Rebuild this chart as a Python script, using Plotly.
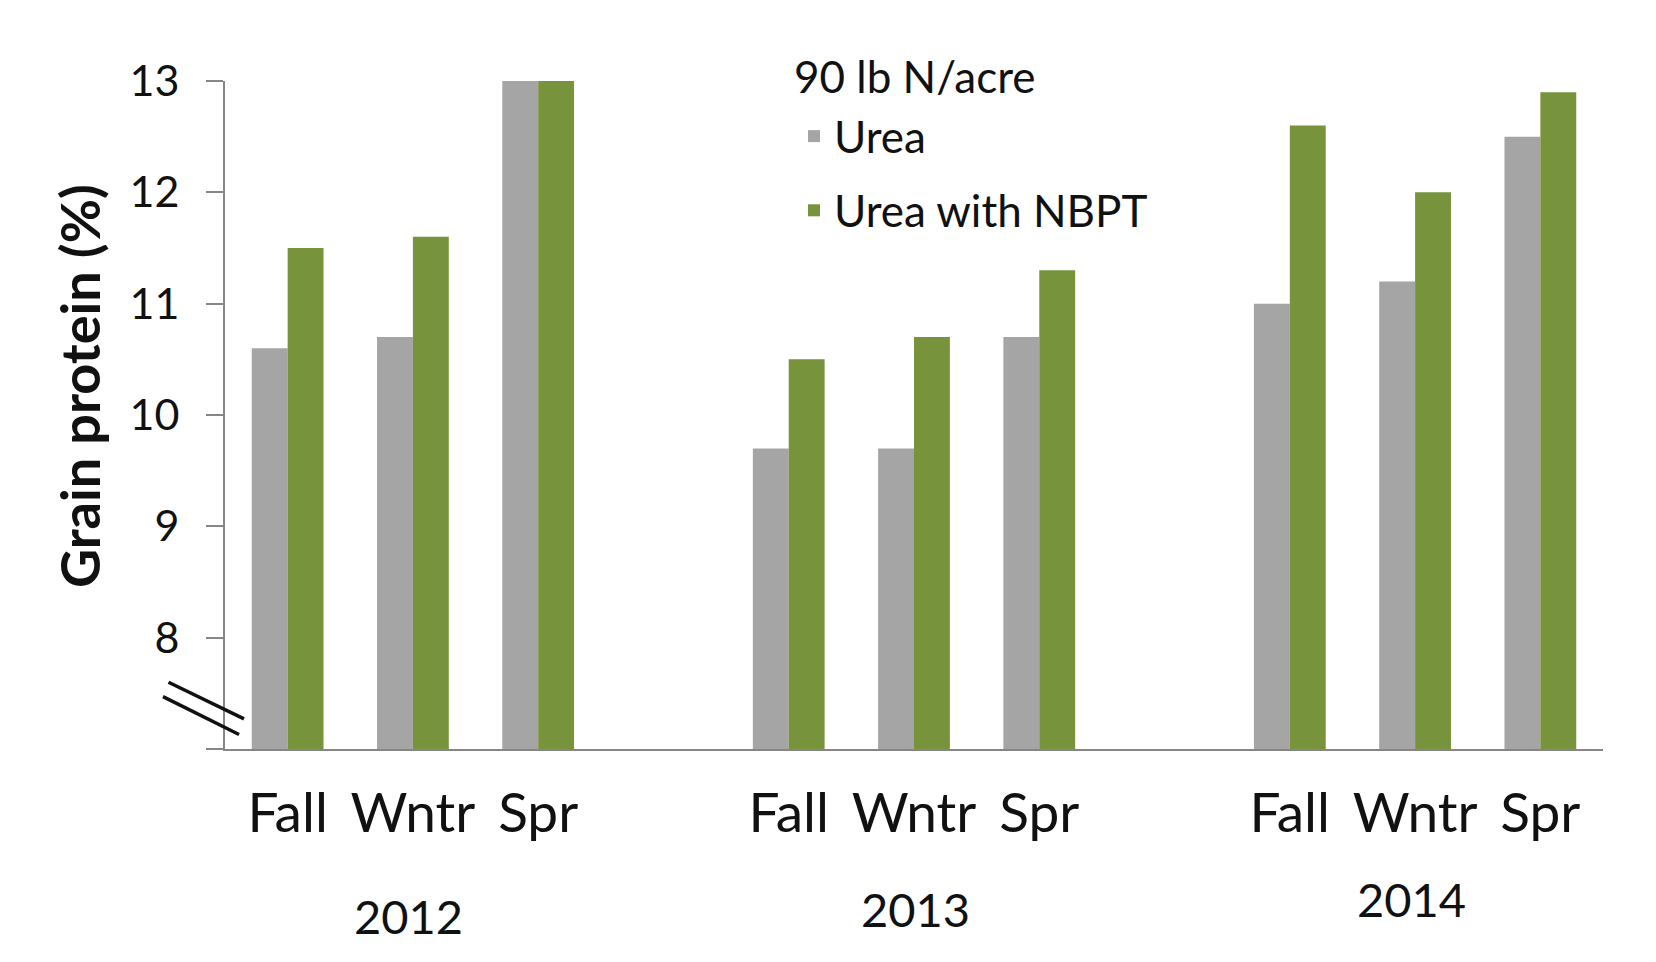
import plotly.graph_objects as go

# ---- data ----
years = ["2012", "2013", "2014"]
seasons = ["Fall", "Wntr", "Spr"]
urea = [10.6, 10.7, 13.0, 9.7, 9.7, 10.7, 11.0, 11.2, 12.5]
urea_nbpt = [11.5, 11.6, 13.02, 10.5, 10.7, 11.3, 12.6, 12.0, 12.9]
series_names = ["Urea", "Urea with NBPT"]
legend_title = "90 lb N/acre"
y_title = "Grain protein (%)"
y_tickvals = [7, 8, 9, 10, 11, 12, 13]
y_ticktext = ["", "8", "9", "10", "11", "12", "13"]

# category positions: one empty slot between year groups
x_pos = []
x_lab = []
for gi, yr in enumerate(years):
    for si, s in enumerate(seasons):
        x_pos.append(gi * (len(seasons) + 1) + si)
        x_lab.append(s)

FONT = "Lato, 'Open Sans', sans-serif"
GRAY = "#A5A5A5"
GREEN = "#77933C"
AXIS = "#868686"
TXT = "#111111"

# plot area in page pixels (page body has an 8px margin)
PL, PR, PT, PB = 225, 1603, 81, 749
PW, PH = PR - PL, PB - PT


def px(xa):
    return (xa - PL) / PW


def py(ya):
    return (PB - ya) / PH


fig = go.Figure()
fig.add_trace(go.Bar(x=x_pos, y=urea, name=series_names[0], marker_color=GRAY,
                     marker_line_width=0, legendgroup="a"))
fig.add_trace(go.Bar(x=x_pos, y=urea_nbpt, name=series_names[1], marker_color=GREEN,
                     marker_line_width=0, legendgroup="b"))

# year labels centred under the middle season of each group
year_y = [py(916), py(909), py(899)]
year_dx = [-4, 1, -4]
for gi, yr in enumerate(years):
    fig.add_annotation(x=gi * (len(seasons) + 1) + 1, y=year_y[gi], xref="x", yref="paper",
                       xshift=year_dx[gi],
                       text=yr, showarrow=False, font=dict(family=FONT, size=47, color=TXT),
                       xanchor="center", yanchor="middle")

# legend heading
fig.add_annotation(x=px(792), y=py(76), xref="paper", yref="paper",
                   text=legend_title, showarrow=False, font=dict(family=FONT, size=44, color=TXT),
                   xanchor="left", yanchor="middle")

# y-axis title (sits above the plot centre in the original)
fig.add_annotation(x=px(79), y=py(386), xref="paper", yref="paper",
                   text="<b>" + y_title + "</b>", textangle=-90, showarrow=False,
                   font=dict(family=FONT, size=54, color=TXT),
                   xanchor="center", yanchor="middle")

# axis break marks
fig.add_shape(type="line", xref="paper", yref="y", x0=-0.041, y0=7.60, x1=0.0138, y1=7.27,
              line=dict(color=TXT, width=3.5))
fig.add_shape(type="line", xref="paper", yref="y", x0=-0.045, y0=7.47, x1=0.0102, y1=7.13,
              line=dict(color=TXT, width=3.5))

W, H = 1648, 954
fig.update_layout(
    width=W, height=H, autosize=False,
    margin=dict(l=PL - 8, r=W - (PR - 8), t=PT - 8, b=H - (PB - 8), pad=0, autoexpand=False),
    paper_bgcolor="white", plot_bgcolor="white",
    barmode="group", bargap=0.427, bargroupgap=0,
    font=dict(family=FONT, color=TXT),
    showlegend=True,
    legend=dict(
        font=dict(family=FONT, size=44, color=TXT),
        x=px(794), xanchor="left", y=py(101), yanchor="top",
        bgcolor="rgba(0,0,0,0)", borderwidth=0,
        traceorder="grouped", tracegroupgap=14,
    ),
)

fig.update_xaxes(
    range=[-0.5, len(years) * (len(seasons) + 1) - 1.5],
    tickmode="array", tickvals=x_pos, ticktext=x_lab,
    tickfont=dict(family=FONT, size=55, color=TXT),
    ticks="", ticklabelstandoff=15,
    showline=True, linecolor=AXIS, linewidth=2,
    showgrid=False, zeroline=False,
)
fig.update_yaxes(
    range=[7, 13],
    tickmode="array", tickvals=y_tickvals, ticktext=y_ticktext,
    tickfont=dict(family=FONT, size=43, color=TXT),
    ticks="outside", ticklen=17, tickwidth=2, tickcolor=AXIS,
    ticklabelstandoff=18,
    showline=True, linecolor=AXIS, linewidth=2,
    showgrid=False, zeroline=False,
)

fig.write_html("out.html")
